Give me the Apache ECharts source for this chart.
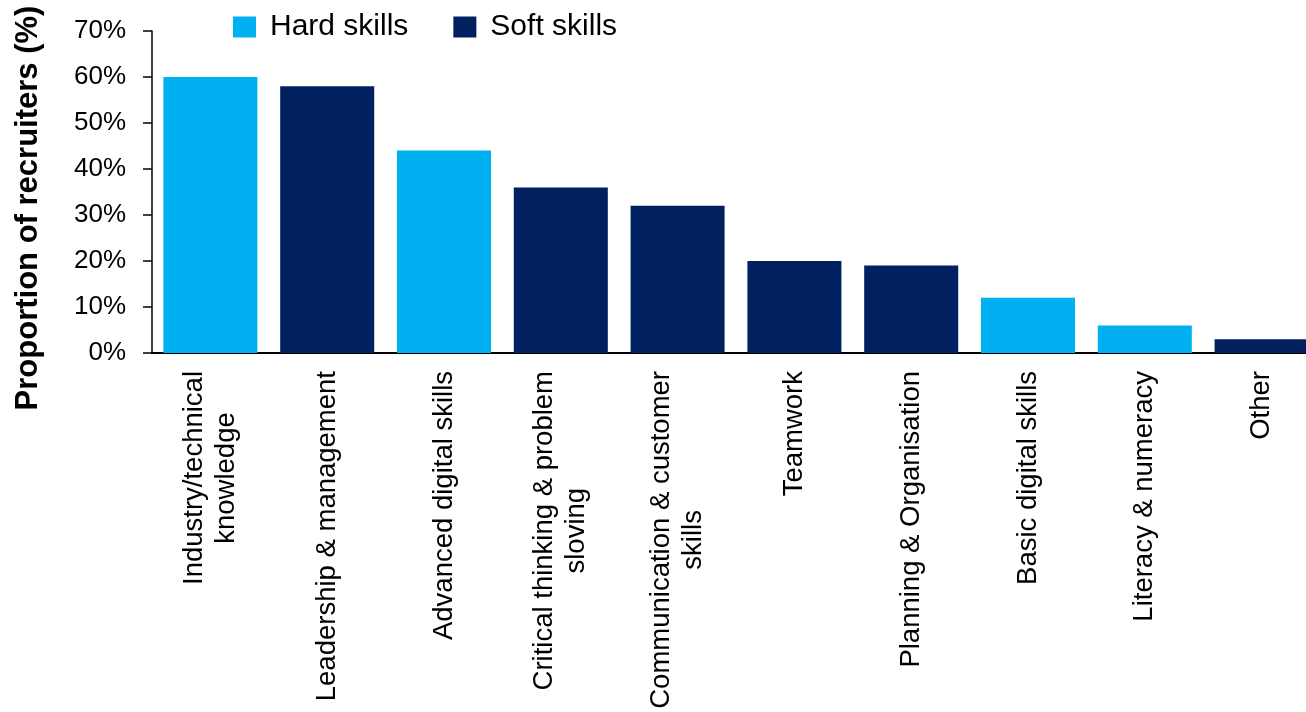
<!DOCTYPE html>
<html>
<head>
<meta charset="utf-8">
<script src="https://cdn.jsdelivr.net/npm/echarts@6/dist/echarts.min.js"></script>
<style>
html,body{margin:0;padding:0;background:#fff;overflow:hidden;}
#chart{width:1320px;height:712px;}
</style>
</head>
<body>
<div id="chart"></div>
<script>
const categories = [
  'Industry/technical\nknowledge',
  'Leadership & management',
  'Advanced digital skills',
  'Critical thinking & problem\nsloving',
  'Communication & customer\nskills',
  'Teamwork',
  'Planning & Organisation',
  'Basic digital skills',
  'Literacy & numeracy',
  'Other'
];
const values = [60, 58, 44, 36, 32, 20, 19, 12, 6, 3];
const skillType = ['Hard', 'Soft', 'Hard', 'Soft', 'Soft', 'Soft', 'Soft', 'Hard', 'Hard', 'Soft'];
const yTicks = [0, 10, 20, 30, 40, 50, 60, 70];
const seriesNames = { Hard: 'Hard skills', Soft: 'Soft skills' };
const colors = { Hard: '#00B0F0', Soft: '#002060' };

const FONT = "'Liberation Sans', Arial, sans-serif";

const chart = echarts.init(document.getElementById('chart'), null, { renderer: 'canvas' });

function seriesFor(type) {
  return {
    name: seriesNames[type],
    type: 'bar',
    stack: 'all',
    barCategoryGap: '19.5%',
    itemStyle: { color: colors[type] },
    data: values.map((v, i) => skillType[i] === type ? v : '-')
  };
}

chart.setOption({
  animation: false,
  textStyle: { fontFamily: FONT },
  legend: {
    top: 12,
    left: 233,
    padding: 0,
    itemWidth: 23,
    itemHeight: 21,
    itemGap: 45,
    icon: 'rect',
    textStyle: { fontSize: 30, color: '#000', fontFamily: FONT, padding: [0, 0, 0, 9] },
    data: [seriesNames.Hard, seriesNames.Soft]
  },
  graphic: [{
    type: 'text',
    x: 28,
    y: 208,
    rotation: Math.PI / 2,
    style: {
      text: 'Proportion of recruiters (%)',
      font: "bold 31px 'Liberation Sans', Arial, sans-serif",
      fill: '#000',
      align: 'center',
      verticalAlign: 'middle'
    }
  }],
  grid: { left: 152, top: 31, width: 1168, height: 322, containLabel: false },
  xAxis: {
    type: 'category',
    data: categories,
    axisLine: { lineStyle: { color: '#000', width: 2 } },
    axisTick: { show: false },
    axisLabel: {
      interval: 0,
      rotate: 90,
      margin: 18,
      color: '#000',
      fontSize: 27.5,
      fontFamily: FONT,
      formatter: function (v) {
        return v.split('\n').map(s => '{c|' + s + '}').join('\n');
      },
      rich: {
        c: { align: 'center', fontSize: 27.5, lineHeight: 32, color: '#000', fontFamily: FONT }
      }
    }
  },
  yAxis: {
    type: 'value',
    min: yTicks[0],
    max: yTicks[yTicks.length - 1],
    interval: 10,
    splitLine: { show: false },
    axisLine: { show: true, lineStyle: { color: '#000', width: 1.5 } },
    axisTick: { show: true, inside: false, length: 9, lineStyle: { color: '#000', width: 1.5 } },
    axisLabel: {
      margin: 26,
      color: '#000',
      fontSize: 26,
      fontFamily: FONT,
      formatter: '{value}%'
    }
  },
  series: [seriesFor('Hard'), seriesFor('Soft')]
});
</script>
</body>
</html>
